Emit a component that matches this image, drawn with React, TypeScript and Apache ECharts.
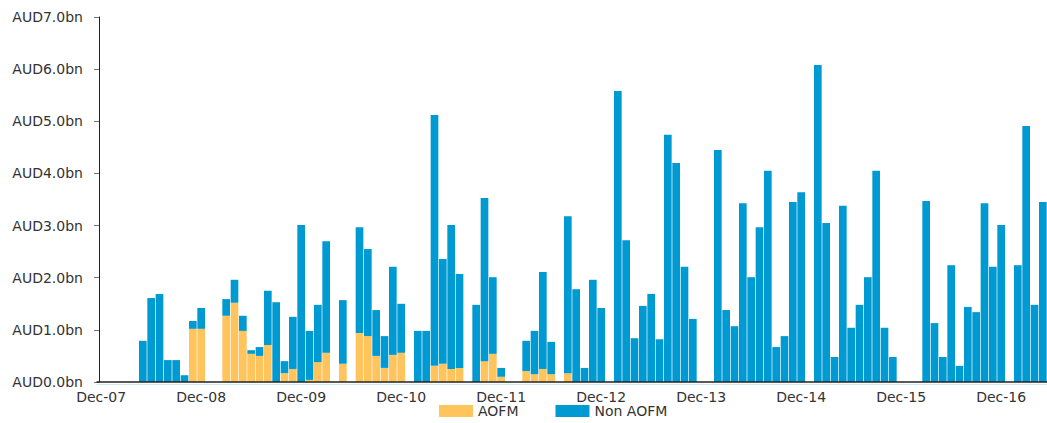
import React, { useEffect, useRef } from "react";
import * as echarts from "echarts";

// Monthly categories Dec-07 .. May-17
const monthNames = ["Jan","Feb","Mar","Apr","May","Jun","Jul","Aug","Sep","Oct","Nov","Dec"];
const categories: string[] = [];
for (let k = 0; k < 114; k++) {
  const m = (11 + k) % 12;
  const y = 7 + Math.floor((11 + k) / 12);
  categories.push(monthNames[m] + "-" + String(y).padStart(2, "0"));
}

// AUD bn
const aofm = [
  0, 0, 0, 0, 0, 0, 0, 0, 0, 0, 0, 1.02,
  1.02, 0, 0, 1.27, 1.52, 0.98, 0.54, 0.50, 0.71, 0, 0.17, 0.25,
  0, 0.04, 0.38, 0.56, 0, 0.35, 0, 0.94, 0.88, 0.50, 0.27, 0.52,
  0.56, 0, 0, 0, 0.31, 0.35, 0.25, 0.27, 0, 0, 0.40, 0.54,
  0.10, 0, 0, 0.21, 0.15, 0.25, 0.15, 0, 0.17, 0, 0, 0,
  0, 0, 0, 0, 0, 0, 0, 0, 0, 0, 0, 0,
  0, 0, 0, 0, 0, 0, 0, 0, 0, 0, 0, 0,
  0, 0, 0, 0, 0, 0, 0, 0, 0, 0, 0, 0,
  0, 0, 0, 0, 0, 0, 0, 0, 0, 0, 0, 0,
  0, 0, 0, 0, 0, 0,
];

const nonAofm = [
  0, 0, 0, 0, 0, 0.79, 1.61, 1.69, 0.42, 0.42, 0.13, 0.15,
  0.40, 0, 0, 0.32, 0.44, 0.29, 0.07, 0.17, 1.04, 1.53, 0.23, 1.00,
  3.01, 0.94, 1.10, 2.14, 0, 1.22, 0, 2.03, 1.67, 0.88, 0.61, 1.69,
  0.94, 0, 0.98, 0.98, 4.81, 2.01, 2.76, 1.80, 0, 1.48, 3.13, 1.47,
  0.17, 0, 0, 0.58, 0.83, 1.86, 0.62, 0, 3.01, 1.78, 0.27, 1.96,
  1.42, 0, 5.58, 2.72, 0.84, 1.46, 1.69, 0.82, 4.74, 4.20, 2.21, 1.21,
  0, 0, 4.45, 1.38, 1.07, 3.43, 2.01, 2.97, 4.05, 0.67, 0.88, 3.45,
  3.64, 0, 6.08, 3.05, 0.48, 3.38, 1.04, 1.48, 2.01, 4.05, 1.04, 0.48,
  0, 0, 0, 3.47, 1.13, 0.48, 2.24, 0.31, 1.44, 1.34, 3.43, 2.21,
  3.01, 0, 2.24, 4.91, 1.48, 3.45,
];

const FONT = "DejaVu Sans";
const TEXT = "#333333";

export default function App() {
  const ref = useRef<HTMLDivElement>(null);
  useEffect(() => {
    if (!ref.current) return;
    const chart = echarts.init(ref.current, undefined, { renderer: "svg" });
    chart.setOption({
      animation: false,
      backgroundColor: "#ffffff",
      textStyle: { fontFamily: FONT },
      grid: { left: 97, right: 0, top: 17, bottom: 41, containLabel: false },
      legend: {
        left: 434,
        top: 399,
        itemWidth: 34,
        itemHeight: 12,
        itemGap: 37,
        icon: "rect",
        textStyle: { fontFamily: FONT, fontSize: 14, color: TEXT },
        data: ["AOFM", "Non AOFM"],
      },
      xAxis: [
        {
          type: "category",
          data: categories,
          boundaryGap: true,
          axisLine: { show: true, lineStyle: { color: "#222222", width: 1.5 } },
          axisTick: { show: false },
          axisLabel: {
            interval: 11,
            margin: 8,
            fontFamily: FONT,
            fontSize: 14,
            color: TEXT,
          },
          splitLine: { show: false },
          z: 5,
        },
        {
          type: "category",
          data: categories,
          position: "bottom",
          offset: 2.5,
          axisLine: { show: true, lineStyle: { color: "#cfe9f5", width: 1 } },
          axisTick: { show: false },
          axisLabel: { show: false },
          splitLine: { show: false },
        },
      ],
      yAxis: {
        type: "value",
        min: 0,
        max: 7,
        interval: 1,
        offset: -2,
        axisLine: { show: true, lineStyle: { color: "#222222", width: 1 } },
        axisTick: { show: true, length: 5, lineStyle: { color: "#777777" } },
        axisLabel: {
          margin: 16,
          fontFamily: FONT,
          fontSize: 14,
          color: TEXT,
          formatter: (v: number) => "AUD" + v.toFixed(1) + "bn",
        },
        splitLine: { show: false },
      },
      series: [
        {
          name: "AOFM",
          type: "bar",
          stack: "total",
          data: aofm,
          barCategoryGap: "8%",
          itemStyle: { color: "#FFC45C" },
        },
        {
          name: "Non AOFM",
          type: "bar",
          stack: "total",
          data: nonAofm,
          barCategoryGap: "8%",
          itemStyle: { color: "#009AD2" },
        },
      ],
    });
    return () => chart.dispose();
  }, []);
  return (
    <div
      ref={ref}
      style={{ position: "absolute", left: 0, top: 0, width: 1047, height: 423 }}
    />
  );
}
